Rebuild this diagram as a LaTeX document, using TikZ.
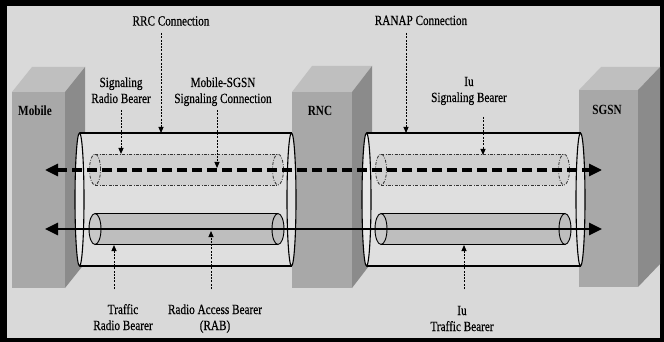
\documentclass[tikz,border=0pt]{standalone}
\usepackage{fontspec}
\setmainfont{Liberation Serif}[FakeStretch=0.8]
\newfontfamily\labelfont{Liberation Serif}[FakeStretch=0.8, FakeBold=0.4]
\usetikzlibrary{arrows.meta}

\definecolor{bgcol}{HTML}{D9D9D9}
\definecolor{frontcol}{HTML}{A8A8A8}
\definecolor{topcol}{HTML}{BFBFBF}
\definecolor{sidecol}{HTML}{8B8B8B}
\definecolor{outerbody}{HTML}{DFDFDF}
\definecolor{outerface}{HTML}{E8E8E8}
\definecolor{sigbody}{HTML}{D0D0D0}
\definecolor{trafbody}{HTML}{BEBEBE}
\definecolor{trafface}{HTML}{C8C8C8}

% three-dimensional block: x1, x2, ytop, ybot, depth dx, rise dy
\newcommand{\threedbox}[6]{%
  \fill[frontcol] (#1,#3) rectangle (#2,#4);
  \fill[topcol] (#1,#3) -- (#1+#5,#3-#6) -- (#2+#5,#3-#6) -- (#2,#3) -- cycle;
  \fill[sidecol] (#2,#3) -- (#2+#5,#3-#6) -- (#2+#5,#4-#6) -- (#2,#4) -- cycle;
}

% horizontal tube: xl, xr, ycentre, rx, ry, outline style, body colour, face colour
\newcommand{\drawtube}[8]{%
  \fill[#7] (#1,#3-#5) rectangle (#2,#3+#5);
  \filldraw[#6,fill=#7] (#2,#3) ellipse [x radius=#4pt, y radius=#5pt];
  \filldraw[#6,fill=#8] (#1,#3) ellipse [x radius=#4pt, y radius=#5pt];
  \draw[#6] (#1,#3-#5) -- (#2,#3-#5) (#1,#3+#5) -- (#2,#3+#5);
}

\tikzset{
  lbl/.style={font=\fontsize{14}{16}\selectfont\labelfont, align=center, inner sep=0pt, anchor=base},
  boxname/.style={font=\fontsize{14}{16}\selectfont\bfseries, inner sep=0pt, anchor=base},
  pointer/.style={line width=1pt, dash pattern=on 2pt off 1.3pt,
    -{Triangle[length=6pt,width=5pt]}},
  outerline/.style={line width=1.1pt, black},
  sigline/.style={line width=0.8pt, black!80, dash pattern=on 3pt off 1.5pt on 0.8pt off 1.5pt},
  trafline/.style={line width=0.9pt, black},
  sigarrow/.style={line width=3pt, dash pattern=on 10pt off 5pt,
    {Triangle[length=13pt,width=12pt]}-{Triangle[length=13pt,width=12pt]}},
  trafarrow/.style={line width=2.6pt,
    {Triangle[length=13pt,width=12pt]}-{Triangle[length=13pt,width=12pt]}},
}

\begin{document}
\begin{tikzpicture}[x=1pt, y=-1pt]
\useasboundingbox (0,0) rectangle (664,342);

% frame and backdrop
\fill[black] (0,0) rectangle (664,342);
\fill[bgcol] (7,6) rectangle (660,338);

% network elements
\threedbox{12}{65}{92}{288}{20}{25}
\threedbox{292}{352}{92}{288}{20}{26}
\threedbox{579}{638}{90}{287}{22}{23}
\node[boxname] (mobile) at (35,116) {Mobile};
\node[boxname] (rnc) at (320,116) {RNC};
\node[boxname] (sgsn) at (607,115) {SGSN};

% RRC and RANAP connections
\drawtube{79.5}{291.5}{199.5}{4.5}{66.5}{outerline}{outerbody}{outerface}
\drawtube{366.5}{580.5}{199.5}{4.5}{66.5}{outerline}{outerbody}{outerface}

% signaling bearers
\drawtube{95}{278}{169.5}{5.5}{15.5}{sigline}{sigbody}{sigbody}
\drawtube{381}{564}{169.5}{5.5}{15.5}{sigline}{sigbody}{sigbody}

% traffic bearers
\drawtube{95}{278}{229}{6}{15.5}{trafline}{trafbody}{trafface}
\drawtube{381}{565}{229}{6}{15.5}{trafline}{trafbody}{trafface}

% end-to-end signaling and traffic paths
\coordinate (sigL) at (45,170);
\coordinate (sigR) at (602,170);
\coordinate (trafL) at (45,229);
\coordinate (trafR) at (602,229);
\draw[sigarrow] (sigL) -- (sigR);
\draw[trafarrow] (trafL) -- (trafR);

% labels (base anchor sits on the last line)
\node[lbl] (rrc) at (171,25.5) {RRC Connection};
\node[lbl] (ranap) at (421,25) {RANAP Connection};
\node[lbl] (srb) at (121,103) {Signaling\\Radio Bearer};
\node[lbl] (msc) at (223,103) {Mobile-SGSN\\Signaling Connection};
\node[lbl] (isb) at (469,102) {Iu\\Signaling Bearer};
\node[lbl] (trb) at (123,330) {Traffic\\Radio Bearer};
\node[lbl] (rab) at (215,330) {Radio Access Bearer\\(RAB)};
\node[lbl] (itb) at (462,331) {Iu\\Traffic Bearer};

% pointer ends
\coordinate (rrcS) at (161,33);   \coordinate (rrcE) at (161,133);
\coordinate (srbS) at (121,110);  \coordinate (srbE) at (121,154);
\coordinate (mscS) at (217,110);  \coordinate (mscE) at (217,168);
\coordinate (ranS) at (406,33);   \coordinate (ranE) at (406,133);
\coordinate (isbS) at (483,117);  \coordinate (isbE) at (483,155);
\coordinate (trbS) at (114,289);  \coordinate (trbE) at (114,245);
\coordinate (rabS) at (211,289);  \coordinate (rabE) at (211,231);
\coordinate (itbS) at (464,289);  \coordinate (itbE) at (464,245);

\draw[pointer] (rrcS) -- (rrcE);
\draw[pointer] (srbS) -- (srbE);
\draw[pointer] (mscS) -- (mscE);
\draw[pointer] (ranS) -- (ranE);
\draw[pointer] (isbS) -- (isbE);
\draw[pointer] (trbS) -- (trbE);
\draw[pointer] (rabS) -- (rabE);
\draw[pointer] (itbS) -- (itbE);
\end{tikzpicture}
\end{document}
